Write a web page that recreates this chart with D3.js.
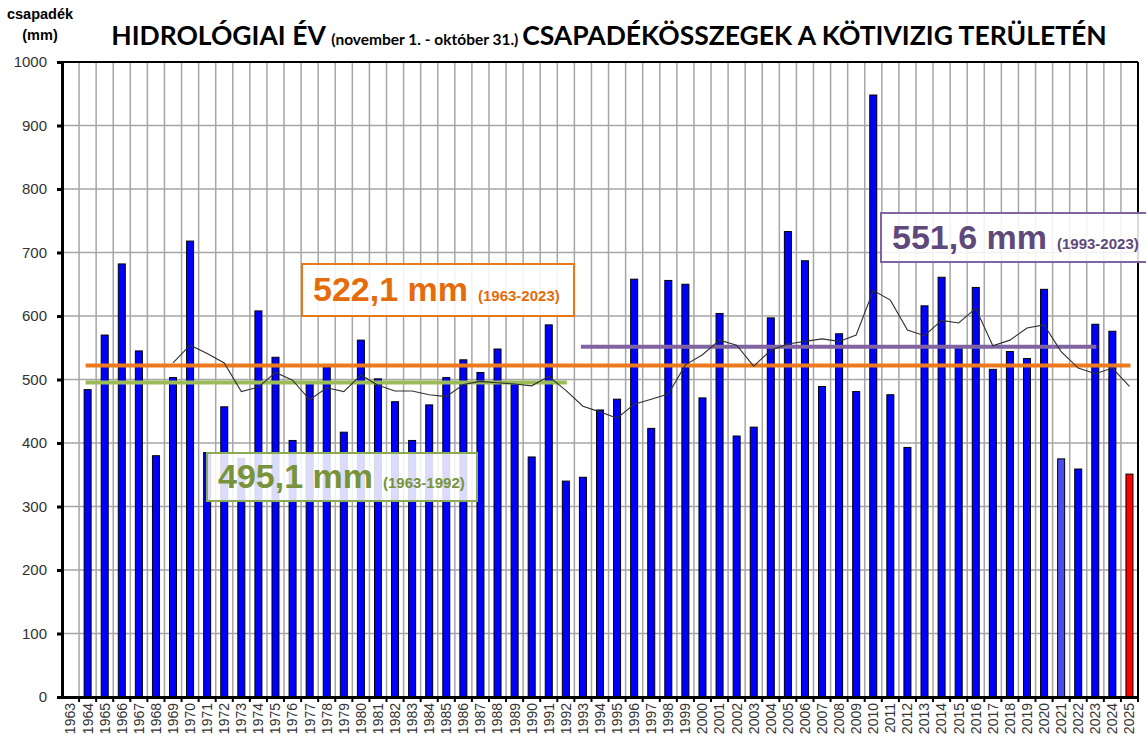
<!DOCTYPE html>
<html>
<head>
<meta charset="utf-8">
<script src="https://cdn.jsdelivr.net/npm/d3@7"></script>
<style>
  body { margin: 0; background: #fff; }
  svg { display: block; }
</style>
</head>
<body>
<div id="chart"></div>
<script>
// ---- data ----
var years = [1963, 1964, 1965, 1966, 1967, 1968, 1969, 1970, 1971, 1972, 1973, 1974, 1975,
  1976, 1977, 1978, 1979, 1980, 1981, 1982, 1983, 1984, 1985, 1986, 1987, 1988, 1989, 1990,
  1991, 1992, 1993, 1994, 1995, 1996, 1997, 1998, 1999, 2000, 2001, 2002, 2003, 2004, 2005,
  2006, 2007, 2008, 2009, 2010, 2011, 2012, 2013, 2014, 2015, 2016, 2017, 2018, 2019, 2020,
  2021, 2022, 2023, 2024, 2025];

// yearly precipitation (mm), 1963 has no bar
var rain = [null, 484, 570, 682, 545, 380, 503, 718, 385, 457, 376, 608, 535,
  404, 495, 520, 417, 562, 501, 465, 404, 460, 503, 531, 511, 548, 495, 378,
  586, 340, 346, 452, 469, 658, 423, 656, 650, 471, 604, 411, 425, 597, 733,
  687, 489, 572, 481, 948, 476, 393, 616, 661, 549, 645, 516, 544, 533, 642,
  375, 359, 587, 576, 351];

// moving average line, 1969 - 2025
var avgYears = [1969, 1970, 1971, 1972, 1973, 1974, 1975, 1976, 1977, 1978, 1979, 1980,
  1981, 1982, 1983, 1984, 1985, 1986, 1987, 1988, 1989, 1990, 1991, 1992, 1993, 1994,
  1995, 1996, 1997, 1998, 1999, 2000, 2001, 2002, 2003, 2004, 2005, 2006, 2007, 2008,
  2009, 2010, 2011, 2012, 2013, 2014, 2015, 2016, 2017, 2018, 2019, 2020, 2021, 2022,
  2023, 2024, 2025];
var avgValues = [526, 554, 541, 526, 481, 488, 511, 499, 468, 487, 481, 507,
  491, 482, 482, 476, 473, 492, 497, 495, 493, 490, 505, 483, 458, 449,
  439, 461, 469, 477, 523, 539, 562, 554, 521, 546, 556, 560, 564, 560,
  570, 640, 625, 578, 569, 593, 589, 612, 553, 562, 581, 586, 544, 518,
  509, 518, 489];

// period means
var meanNames = ['green', 'orange', 'purple'];
var meanValues = [495.1, 522.1, 551.6];
var meanLabels = ['495,1 mm', '522,1 mm', '551,6 mm'];
var meanPeriods = ['(1963-1992)', '(1963-2023)', '(1993-2023)'];
var meanFrom = [1964, 1964, 1993];
var meanTo = [1992, 2025, 2023];

var yTicks = [0, 100, 200, 300, 400, 500, 600, 700, 800, 900, 1000];

// ---- styles ----
var barColor = '#0000FF';
var specialColors = { 2021: '#4B4BF3', 2025: '#FF0000' };
var meanStyle = {
  green:  { line: '#9BBB59', text: '#77933C', border: '#8AAB52', box: [207, 453, 270, 48] },
  orange: { line: '#EC7A1C', text: '#E46C0A', border: '#E8771A', box: [302, 264, 272, 52] },
  purple: { line: '#8064A2', text: '#5F497A', border: '#8064A2', box: [881, 213, 275, 49] }
};

var W = 1146, H = 738;
var margin = { left: 62, right: 8, top: 62, bottom: 41 };

var svg = d3.select('#chart').append('svg')
  .attr('width', W)
  .attr('height', H);

var x = d3.scaleBand()
  .domain(years)
  .range([margin.left, W - margin.right])
  .padding(0);

var y = d3.scaleLinear()
  .domain([0, 1000])
  .range([H - margin.bottom, margin.top]);

var x0 = margin.left, x1 = W - margin.right;
var yTop = y(1000), yBot = y(0);

// gridlines
svg.append('g')
  .selectAll('line')
  .data(yTicks.slice(1, -1))
  .enter().append('line')
    .attr('x1', x0).attr('x2', x1)
    .attr('y1', function(d) { return y(d); })
    .attr('y2', function(d) { return y(d); })
    .attr('stroke', '#A6A6A6')
    .attr('stroke-width', 1.5);

svg.append('g')
  .selectAll('line')
  .data(years.slice(1))
  .enter().append('line')
    .attr('x1', function(d) { return x(d); })
    .attr('x2', function(d) { return x(d); })
    .attr('y1', yTop).attr('y2', yBot)
    .attr('stroke', '#A6A6A6')
    .attr('stroke-width', 1.5);

// bars
var barW = 7;
var barData = years.map(function(yr, i) { return { year: yr, value: rain[i] }; })
  .filter(function(d) { return d.value != null; });

svg.append('g')
  .selectAll('rect')
  .data(barData)
  .enter().append('rect')
    .attr('x', function(d) { return x(d.year) + x.bandwidth() / 2 - barW / 2; })
    .attr('y', function(d) { return y(d.value); })
    .attr('width', barW)
    .attr('height', function(d) { return yBot - y(d.value); })
    .attr('fill', function(d) { return specialColors[d.year] || barColor; })
    .attr('stroke', '#000')
    .attr('stroke-width', 1);

// mean lines
meanNames.forEach(function(name, i) {
  svg.append('line')
    .attr('x1', x(meanFrom[i]) + x.bandwidth() / 2 - 2)
    .attr('x2', x(meanTo[i]) + x.bandwidth() / 2 + 1)
    .attr('y1', y(meanValues[i]))
    .attr('y2', y(meanValues[i]))
    .attr('stroke', meanStyle[name].line)
    .attr('stroke-width', 4);
});

// moving average
var avgLine = d3.line()
  .x(function(d) { return x(d.year) + x.bandwidth() / 2; })
  .y(function(d) { return y(d.value); });

svg.append('path')
  .datum(avgYears.map(function(yr, i) { return { year: yr, value: avgValues[i] }; }))
  .attr('fill', 'none')
  .attr('stroke', '#303030')
  .attr('stroke-width', 1.1)
  .attr('d', avgLine);

// frame
svg.append('line').attr('x1', x0).attr('x2', x1).attr('y1', yTop).attr('y2', yTop)
  .attr('stroke', '#000').attr('stroke-width', 2);
svg.append('line').attr('x1', x1).attr('x2', x1).attr('y1', yTop).attr('y2', yBot)
  .attr('stroke', '#000').attr('stroke-width', 2);

// Y axis
var yAxis = svg.append('g')
  .attr('transform', 'translate(' + x0 + ',0)')
  .call(d3.axisLeft(y).tickValues(yTicks).tickSize(5).tickPadding(10).tickFormat(d3.format('d')));
yAxis.select('.domain').attr('stroke', '#000').attr('stroke-width', 3);
yAxis.selectAll('.tick line').attr('stroke', '#000').attr('stroke-width', 3);
yAxis.selectAll('.tick text')
  .style('font-family', '"Liberation Sans", Arial, sans-serif')
  .style('font-size', '15px')
  .attr('fill', '#333');

// X axis
var xAxis = svg.append('g')
  .attr('transform', 'translate(0,' + yBot + ')')
  .call(d3.axisBottom(x).tickSize(0).tickPadding(0));
xAxis.select('.domain').attr('stroke', '#000').attr('stroke-width', 3);
xAxis.selectAll('.tick text')
  .attr('transform', 'rotate(-90)')
  .attr('x', -6)
  .attr('y', 0)
  .attr('dy', '0.35em')
  .style('text-anchor', 'end')
  .style('font-family', '"Liberation Sans", Arial, sans-serif')
  .style('font-size', '14px')
  .attr('fill', '#333');

svg.append('g')
  .selectAll('line')
  .data(years.slice(1).concat([null]))
  .enter().append('line')
    .attr('x1', function(d) { return d == null ? x1 : x(d); })
    .attr('x2', function(d) { return d == null ? x1 : x(d); })
    .attr('y1', yBot).attr('y2', yBot + 5)
    .attr('stroke', '#000')
    .attr('stroke-width', 2);

// mean label boxes
meanNames.forEach(function(name, i) {
  var st = meanStyle[name];
  var b = st.box;
  svg.append('rect')
    .attr('x', b[0]).attr('y', b[1])
    .attr('width', b[2]).attr('height', b[3])
    .attr('fill', '#fff')
    .attr('fill-opacity', 0.86)
    .attr('stroke', st.border)
    .attr('stroke-width', 2);
  var t = svg.append('text')
    .attr('x', b[0] + 11)
    .attr('y', b[1] + b[3] / 2 + 11)
    .style('font-family', '"Liberation Sans", Arial, sans-serif')
    .style('font-weight', 'bold')
    .attr('fill', st.text);
  t.append('tspan').style('font-size', '34px').text(meanLabels[i]);
  t.append('tspan').attr('dx', 10).style('font-size', '15px').text(meanPeriods[i]);
});

// title
var title = svg.append('text')
  .attr('x', 609)
  .attr('y', 45)
  .attr('text-anchor', 'middle')
  .style('font-family', 'Lato, "Open Sans", sans-serif')
  .style('font-weight', 'bold')
  .attr('fill', '#000');
title.append('tspan').style('font-size', '26.5px').text('HIDROLÓGIAI ÉV ');
title.append('tspan').style('font-size', '15.5px').text('(november 1. - október 31.) ');
title.append('tspan').style('font-size', '26.5px').text('CSAPADÉKÖSSZEGEK A KÖTIVIZIG TERÜLETÉN');

// y unit label
svg.append('text')
  .attr('x', 40).attr('y', 19)
  .attr('text-anchor', 'middle')
  .style('font-family', '"Liberation Sans", Arial, sans-serif')
  .style('font-weight', 'bold')
  .style('font-size', '14.5px')
  .text('csapadék');
svg.append('text')
  .attr('x', 40).attr('y', 40)
  .attr('text-anchor', 'middle')
  .style('font-family', '"Liberation Sans", Arial, sans-serif')
  .style('font-weight', 'bold')
  .style('font-size', '14.5px')
  .text('(mm)');
</script>
</body>
</html>
